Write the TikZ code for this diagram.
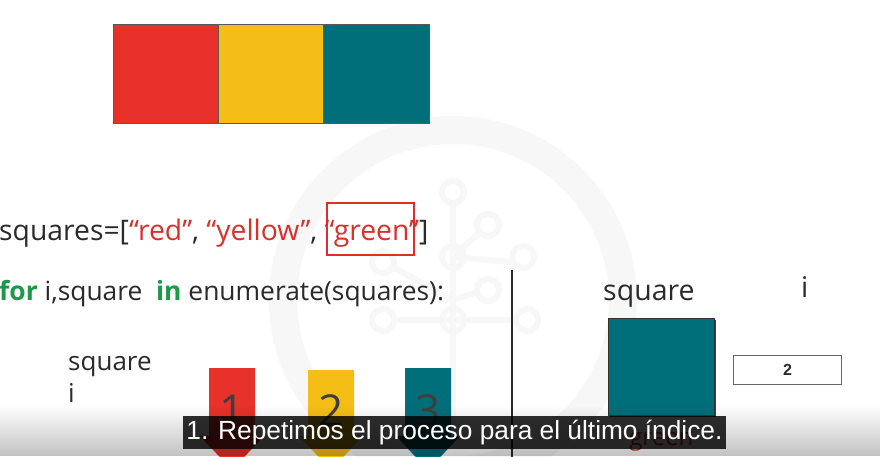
\documentclass[tikz,border=0pt]{standalone}
\usepackage{fontspec}
\setmainfont{Open Sans}
\newfontfamily\capfont{Liberation Sans}
\usetikzlibrary{fadings}

\definecolor{sqred}{HTML}{E8312A}
\definecolor{sqyellow}{HTML}{F5BE17}
\definecolor{sqteal}{HTML}{006F79}
\definecolor{strred}{HTML}{DB2F2A}
\definecolor{kwgreen}{HTML}{1C9A48}
\definecolor{ink}{HTML}{2A2A2A}
\definecolor{mark}{HTML}{F7F7F8}

\tikzset{
  swatch/.style={draw=black!65, line width=0.8pt},
  codetext/.style={anchor=base west, inner sep=0pt, text=ink},
  labeltext/.style={anchor=base west, inner sep=0pt, text=ink, font=\fontsize{26}{30}\selectfont},
  digit/.style={inner sep=0pt, text=ink!90, font=\fontsize{44}{48}\selectfont},
  logo/.style={draw=mark, line width=6pt},
}

\begin{document}
\begin{tikzpicture}[x=1pt,y=-1pt]
  \useasboundingbox (0,0) rectangle (880,456);
  \fill[white] (0,0) rectangle (880,456);
  \clip (0,0) rectangle (880,456);

  % faint background emblem: ring and branching tree
  \draw[draw=mark, line width=28pt] (453,300) circle[radius=170];
  \draw[logo] (453,204) -- (453,440);
  \draw[logo] (453,257) -- (478,234);
  \draw[logo] (453,300) -- (395,268);
  \draw[logo] (453,257) -- (511,262);
  \draw[logo] (453,300) -- (478,292);
  \draw[logo] (453,320) -- (395,320);
  \draw[logo] (453,320) -- (515,320);
  \foreach \cx/\cy in {453/192, 488/225, 383/262, 523/257, 488/290, 383/320, 453/320, 527/320, 453/257}
    \draw[logo] (\cx,\cy) circle[radius=11];

  % list of colours as squares
  \node[swatch, fill=sqred, minimum width=105pt, minimum height=99pt, inner sep=0pt, anchor=north west] (sq1) at (113,24) {};
  \node[swatch, fill=sqyellow, minimum width=105pt, minimum height=99pt, inner sep=0pt, anchor=north west] (sq2) at (218,24) {};
  \node[swatch, fill=sqteal, minimum width=106pt, minimum height=99pt, inner sep=0pt, anchor=north west] (sq3) at (323,24) {};

  % code lines
  \node[codetext, font=\fontsize{28.3}{32}\selectfont] (line1) at (-1,240) {squares=[\textcolor{strred}{“red”}, \textcolor{strred}{“yellow”}, \textcolor{strred}{“green”}]};
  \node[draw=strred, line width=2.4pt, minimum width=87pt, minimum height=52pt, inner sep=0pt, anchor=north west] (hl) at (326,202) {};
  \node[codetext, font=\fontsize{26.4}{30}\selectfont] (line2) at (-1,300) {\textcolor{kwgreen}{\bfseries for} i,square\ \ \textcolor{kwgreen}{\bfseries in} enumerate(squares):};

  % divider
  \coordinate (divtop) at (512,270);
  \coordinate (divbot) at (512,460);
  \draw[ink, line width=2pt] (divtop) -- (divbot);

  % loop variables on the left
  \node[labeltext] (lsq) at (68,370) {square};
  \node[labeltext] (li) at (68,402) {i};

  % index pointers
  \foreach \name/\col/\x/\t/\d in {p1/sqred/209/368/1, p2/sqyellow/308/370/2, p3/sqteal/405/368/3} {
    \fill[\col] (\x,\t) -- (\x+46,\t) -- (\x+46,436) -- (\x+55,436) -- (\x+23,470) -- (\x-9,436) -- (\x,436) -- cycle;
    \node[digit] (\name) at (\x+23,411) {\d};
  }

  % current values on the right
  \node[labeltext, font=\fontsize{28.5}{32}\selectfont] (rsq) at (603,300) {square};
  \node[labeltext, font=\fontsize{28.5}{32}\selectfont] (ri) at (801,297) {i};
  \fill[black!75] (610,320) rectangle (716,417);
  \node[draw=black!80, line width=0.8pt, fill=sqteal, minimum width=106pt, minimum height=97pt, inner sep=0pt, anchor=north west] (cur) at (608,318) {};
  \node[anchor=base, inner sep=0pt, text=strred, font=\fontsize{24}{28}\selectfont] (curname) at ([yshift=-30pt]cur.south) {green};
  \node[draw=black!60, line width=1.2pt, fill=white, minimum width=108pt, minimum height=29pt, inner sep=0pt, anchor=north west, font=\capfont\bfseries\fontsize{16}{18}\selectfont, text=ink] (idx) at (733,355) {2};

  % darkened lower edge
  \fill[black, fill opacity=0.24, path fading=north] (0,405) rectangle (880,456);

  % caption bar
  \fill[black, fill opacity=0.82] (183,416) rectangle (726,449);
  \node[inner sep=0pt, text=white, font=\capfont\fontsize{26.3}{30}\selectfont] (cap) at (454.5,432.5) {1. Repetimos el proceso para el último índice.};
\end{tikzpicture}
\end{document}
